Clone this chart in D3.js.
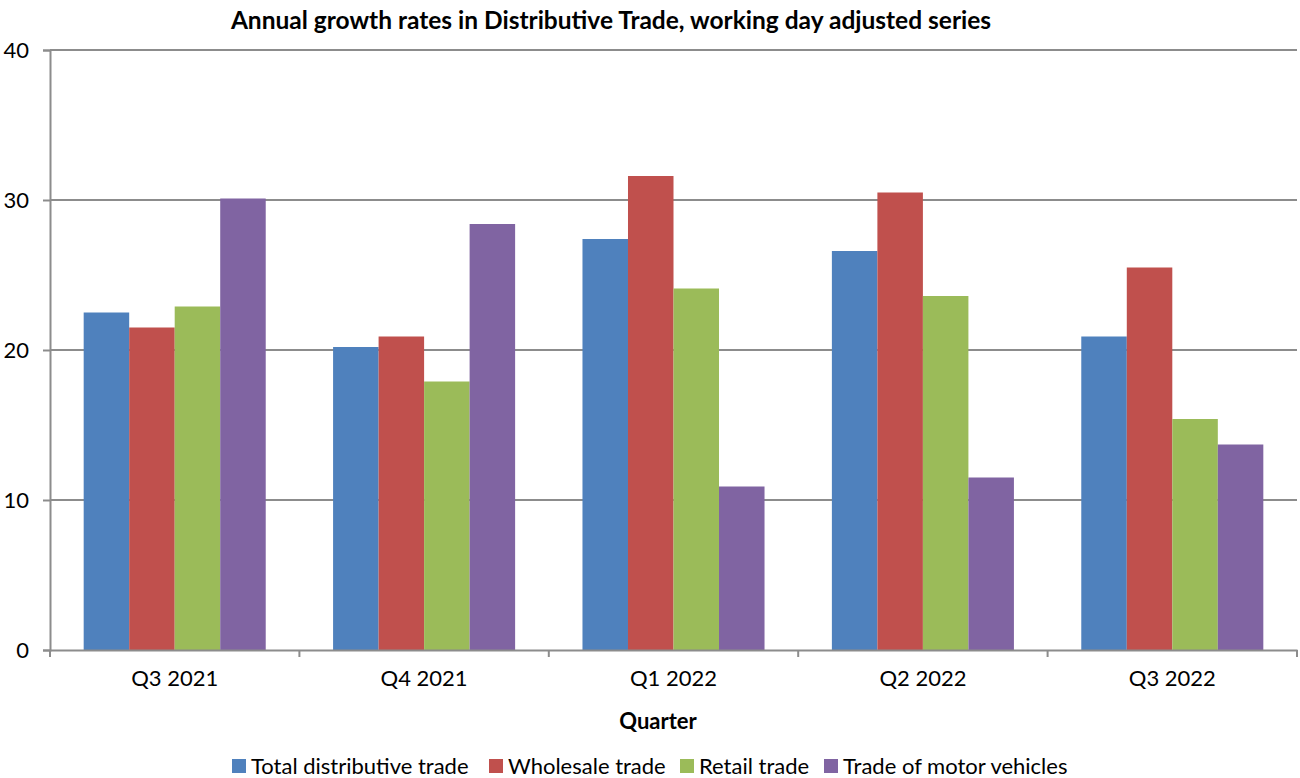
<!DOCTYPE html>
<html><head><meta charset="utf-8">
<script src="https://cdn.jsdelivr.net/npm/d3@7"></script>
<style>body{margin:0;background:#fff}svg{display:block}text{font-family:Lato,"Open Sans",sans-serif;fill:#000}</style>
</head><body><svg id="c" width="1300" height="778"></svg>
<script>
const categories = ["Q3 2021","Q4 2021","Q1 2022","Q2 2022","Q3 2022"];
const seriesNames = ["Total distributive trade","Wholesale trade","Retail trade","Trade of motor vehicles"];
const totalDistributive = [22.5, 20.2, 27.4, 26.6, 20.9];
const wholesale = [21.5, 20.9, 31.6, 30.5, 25.5];
const retail = [22.9, 17.9, 24.1, 23.6, 15.4];
const motorVehicles = [30.1, 28.4, 10.9, 11.5, 13.7];
const yTicks = [0, 10, 20, 30, 40];
const colors = ["#4F81BD","#C0504D","#9BBB59","#8064A2"];
const seriesValues = [totalDistributive, wholesale, retail, motorVehicles];

const svg = d3.select("#c");
const L = 50, R = 1297, T = 50, B = 650;
const FS = 22;
const x = d3.scaleBand().domain(categories).range([L, R]).paddingInner(0).paddingOuter(0);
const inner = d3.scaleBand().domain(seriesNames).range([0, x.bandwidth()]).paddingOuter(0.74).paddingInner(0);
const y = d3.scaleLinear().domain([0, 40]).range([B, T]);

// gridlines
svg.append("g").selectAll("line").data(yTicks.filter(d => d > 0)).join("line")
  .attr("x1", L).attr("x2", R).attr("y1", d => y(d)).attr("y2", d => y(d))
  .attr("stroke", "#8c8c8c").attr("stroke-width", 2);

// bars
seriesNames.forEach((s, si) => {
  svg.append("g").selectAll("rect").data(categories).join("rect")
    .attr("x", c => x(c) + inner(s))
    .attr("width", inner.bandwidth())
    .attr("y", (c, i) => y(seriesValues[si][i]))
    .attr("height", (c, i) => B - y(seriesValues[si][i]))
    .attr("fill", colors[si]);
});

// y axis
const yAxis = svg.append("g").attr("transform", `translate(${L},0)`)
  .call(d3.axisLeft(y).tickValues(yTicks).tickSize(7).tickPadding(14).tickFormat(d3.format("d")));
yAxis.select(".domain").attr("stroke", "#8c8c8c").attr("stroke-width", 2);
yAxis.selectAll(".tick line").attr("stroke", "#8c8c8c").attr("stroke-width", 2);
yAxis.selectAll("text").attr("font-size", FS).style("font-family", "Lato").attr("fill", "#000");

// x axis
const xAxis = svg.append("g").attr("transform", `translate(0,${B})`)
  .call(d3.axisBottom(x).tickSize(0).tickPadding(20));
xAxis.select(".domain").attr("stroke", "#8c8c8c").attr("stroke-width", 2);
xAxis.selectAll("text").attr("font-size", FS).style("font-family", "Lato").attr("fill", "#000");
const bounds = categories.map(c => x(c)).concat([x(categories[categories.length-1]) + x.bandwidth()]);
svg.append("g").selectAll("line").data(bounds).join("line")
  .attr("x1", d => d).attr("x2", d => d).attr("y1", B).attr("y2", B + 7)
  .attr("stroke", "#8c8c8c").attr("stroke-width", 2);

// title
svg.append("text").attr("x", 611).attr("y", 29).attr("text-anchor", "middle")
  .attr("font-size", 24.5).attr("font-weight", "bold")
  .text("Annual growth rates in Distributive Trade, working day adjusted series");
svg.append("text").attr("x", 658).attr("y", 729).attr("text-anchor", "middle")
  .attr("font-size", FS).attr("font-weight", "bold").text("Quarter");

// legend
const legendX = [232, 489, 680, 824];
const lg = svg.append("g");
seriesNames.forEach((s, i) => {
  lg.append("rect").attr("x", legendX[i]).attr("y", 759).attr("width", 14).attr("height", 14).attr("fill", colors[i]);
  lg.append("text").attr("x", legendX[i] + 19).attr("y", 774).attr("font-size", FS).text(s);
});
</script></body></html>
